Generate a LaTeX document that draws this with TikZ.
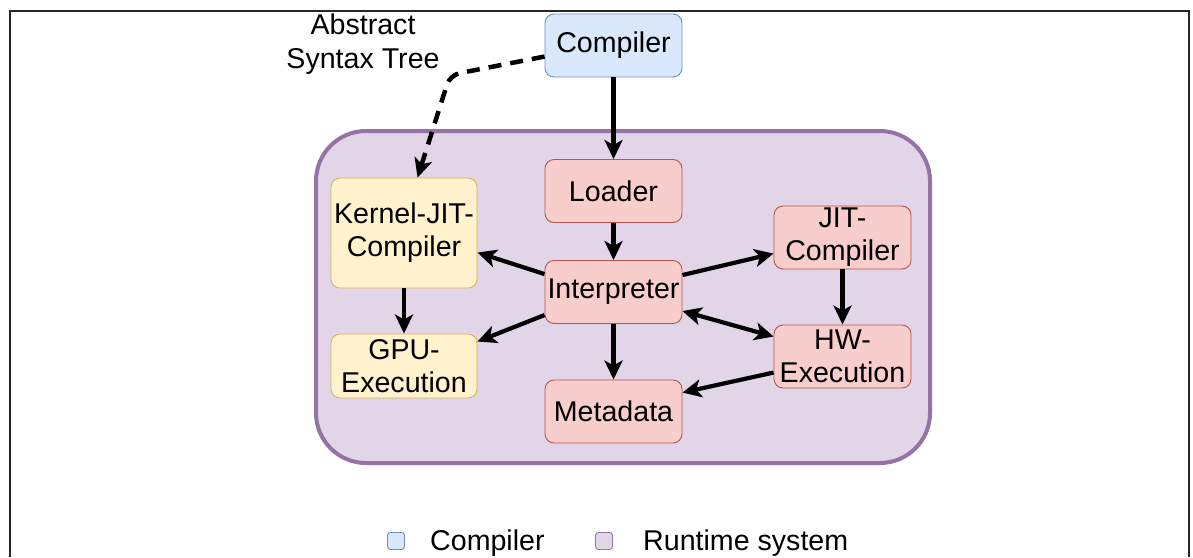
\documentclass[tikz,border=0pt]{standalone}
\usepackage{fontspec}
\setmainfont{Liberation Sans}
\usetikzlibrary{arrows.meta,calc}
\definecolor{bluefill}{HTML}{DAE8FC}
\definecolor{bluestroke}{HTML}{6C8EBF}
\definecolor{redfill}{HTML}{F8CECC}
\definecolor{redstroke}{HTML}{B85450}
\definecolor{yelfill}{HTML}{FFF2CC}
\definecolor{yelstroke}{HTML}{D6B656}
\definecolor{purfill}{HTML}{E1D5E7}
\definecolor{purstroke}{HTML}{9673A6}
\tikzset{
  box/.style={draw, rounded corners=9pt, line width=0.9pt, inner sep=0pt, align=center,
    font=\fontsize{28.6}{33}\selectfont},
  redbox/.style={box, fill=redfill, draw=redstroke, minimum width=137pt, minimum height=63pt},
  yelbox/.style={box, fill=yelfill, draw=yelstroke, minimum width=146pt},
  bluebox/.style={box, fill=bluefill, draw=bluestroke, minimum width=137pt, minimum height=63pt},
  tip/.style={Stealth[length=19pt,width=18pt,inset=5pt]},
  conn/.style={line width=4.2pt, -{Stealth[length=19pt,width=18pt,inset=5pt]}},
  bconn/.style={line width=4.2pt, {Stealth[length=19pt,width=18pt,inset=5pt]}-{Stealth[length=19pt,width=18pt,inset=5pt]}},
  lbl/.style={align=center, inner sep=0pt, font=\fontsize{28.6}{34}\selectfont},
  legsq/.style={draw, rounded corners=3pt, line width=0.9pt, minimum size=17pt, inner sep=0pt},
}
\begin{document}
\begin{tikzpicture}[x=1pt,y=-1pt]
\useasboundingbox (0,0) rectangle (1193,557);
% frame
\draw[line width=1.3pt, black!85] (10,557) -- (10,11) -- (1189,11) -- (1189,557);
% runtime container
\node[draw=purstroke, fill=purfill, line width=4pt, rounded corners=50pt,
      minimum width=614pt, minimum height=332pt, inner sep=0pt] (rt) at (623,297) {};
% nodes
\node[bluebox] (comp) at (613.5,45.5) {Compiler};
\node[redbox] (loader) at (613.5,191) {Loader};
\node[redbox] (interp) at (613.5,292) {Interpreter};
\node[redbox] (meta) at (613.5,411.5) {Metadata};
\node[yelbox, minimum height=110pt] (kernel) at (404,233) {Kernel-JIT-\\Compiler};
\node[yelbox, minimum height=64pt] (gpu) at (404,366) {GPU-\\Execution};
\node[redbox] (jit) at (842.5,237.5) {JIT-\\Compiler};
\node[redbox] (hw) at (842.5,356.5) {HW-\\Execution};
\node[lbl] (ast) at (363,44) {Abstract\\Syntax Tree};
% connectors
\draw[conn] (comp.south) -- (loader.north);
\draw[conn] (loader.south) -- (interp.north);
\draw[conn] (interp.south) -- (meta.north);
\draw[conn] (kernel.south) -- (gpu.north);
\draw[conn] (jit.south) -- (hw.north);
\draw[conn] ($(interp.north west)+(0,14)$) -- ($(kernel.north east)+(0,75)$);
\draw[conn] ($(interp.north west)+(0,55)$) -- ($(gpu.north east)+(0,8)$);
\draw[conn] ($(interp.north east)+(0,15)$) -- ($(jit.north west)+(0,48)$);
\draw[bconn] ($(interp.north east)+(0,51)$) -- ($(hw.north west)+(0,12)$);
\draw[conn] ($(hw.north west)+(0,48)$) -- ($(meta.north east)+(0,13)$);
\coordinate (bend) at (450,75);
\draw[line width=4.5pt, dash pattern=on 13pt off 9pt, rounded corners=10pt,
      -{Stealth[length=19pt,width=18pt,inset=5pt]}]
  ($(comp.north west)+(0,43)$) -- (bend) -- ($(kernel.north west)+(87,0)$);
% legend
\node[legsq, fill=bluefill, draw=bluestroke] (lg1) at (396,541) {};
\node[lbl, anchor=west] (lg1t) at (430,543) {Compiler};
\node[legsq, fill=purfill, draw=purstroke] (lg2) at (604,541) {};
\node[lbl, anchor=west] (lg2t) at (643,543) {Runtime system};
\end{tikzpicture}
\end{document}
